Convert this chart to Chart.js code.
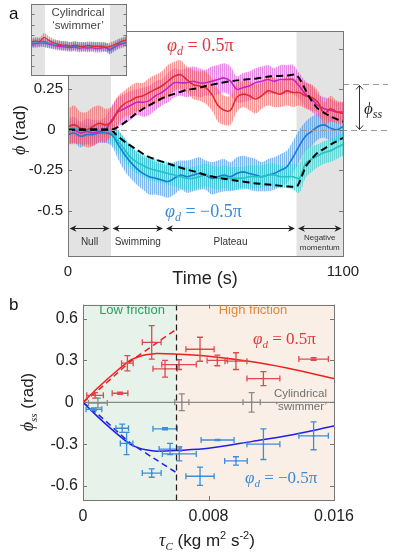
<!DOCTYPE html>
<html><head><meta charset="utf-8">
<script src="https://cdn.jsdelivr.net/npm/chart.js@4.4.1/dist/chart.umd.min.js"></script>
<style>
html,body{margin:0;padding:0;background:#fff;width:398px;height:553px;overflow:hidden}
#wrap{position:relative;width:398px;height:553px}
canvas{position:absolute;display:block}
#cA{left:0;top:0;z-index:1}
#cIn{left:31px;top:4px;z-index:2}
#cB{left:0;top:290px;z-index:1}
</style></head>
<body><div id="wrap">
<canvas id="cA" width="398" height="290"></canvas>
<canvas id="cIn" width="96" height="72"></canvas>
<canvas id="cB" width="398" height="263"></canvas>
</div>
<script>
// ---------------- DATA: panel a ----------------
const tA = [0,25,50,75,100,125,150,175,200,225,250,275,300,325,350,375,400,425,450,475,500,525,550,575,600,625,650,675,700,725,750,775,800,825,850,875,900,925,950,975,1000,1025,1050,1075,1100];
const redMean = [0.02,0.03,0.01,0.0,0.02,0.04,0.03,0.05,0.12,0.16,0.18,0.20,0.21,0.23,0.25,0.27,0.30,0.33,0.34,0.31,0.28,0.27,0.26,0.22,0.15,0.12,0.12,0.20,0.22,0.21,0.19,0.21,0.24,0.23,0.22,0.24,0.23,0.23,0.21,0.20,0.17,0.10,0.13,0.11,0.10];
const redHW   = [0.11,0.12,0.10,0.11,0.12,0.11,0.10,0.09,0.09,0.08,0.09,0.09,0.08,0.09,0.09,0.09,0.10,0.09,0.09,0.08,0.09,0.09,0.10,0.10,0.10,0.09,0.09,0.09,0.08,0.09,0.09,0.08,0.09,0.09,0.08,0.09,0.09,0.08,0.08,0.08,0.07,0.07,0.08,0.07,0.07];
const magMean = [-0.01,0.0,-0.02,-0.01,-0.02,-0.01,0.0,0.06,0.11,0.13,0.15,0.17,0.17,0.18,0.21,0.23,0.26,0.29,0.29,0.29,0.30,0.29,0.29,0.30,0.31,0.32,0.30,0.25,0.26,0.27,0.29,0.30,0.31,0.30,0.31,0.31,0.31,0.27,0.22,0.19,0.15,0.13,0.12,0.11,0.11];
const magHW   = [0.08,0.08,0.07,0.08,0.08,0.07,0.08,0.09,0.09,0.09,0.09,0.08,0.09,0.09,0.09,0.08,0.09,0.09,0.08,0.09,0.09,0.09,0.08,0.09,0.09,0.09,0.09,0.08,0.09,0.09,0.09,0.09,0.09,0.08,0.09,0.09,0.09,0.08,0.08,0.08,0.07,0.07,0.07,0.06,0.06];
const blueMean = [-0.03,-0.02,-0.04,-0.03,-0.03,-0.02,-0.02,-0.03,-0.09,-0.15,-0.20,-0.24,-0.27,-0.29,-0.30,-0.31,-0.32,-0.30,-0.28,-0.29,-0.28,-0.27,-0.28,-0.30,-0.29,-0.28,-0.29,-0.27,-0.26,-0.27,-0.28,-0.29,-0.28,-0.27,-0.25,-0.23,-0.17,-0.10,-0.04,-0.01,0.02,0.03,0.01,0.0,0.02];
const blueHW   = [0.06,0.06,0.07,0.06,0.06,0.06,0.06,0.07,0.09,0.10,0.10,0.10,0.10,0.11,0.10,0.10,0.10,0.10,0.09,0.10,0.10,0.10,0.09,0.10,0.10,0.10,0.09,0.10,0.10,0.10,0.10,0.09,0.10,0.10,0.10,0.10,0.10,0.10,0.09,0.09,0.08,0.08,0.08,0.08,0.07];
const cyanMean = [0.0,0.01,-0.01,0.0,-0.01,0.0,0.0,-0.02,-0.07,-0.12,-0.17,-0.20,-0.22,-0.24,-0.25,-0.26,-0.27,-0.28,-0.29,-0.30,-0.30,-0.29,-0.28,-0.29,-0.30,-0.29,-0.30,-0.30,-0.30,-0.29,-0.29,-0.29,-0.28,-0.28,-0.29,-0.29,-0.29,-0.30,-0.21,-0.18,-0.16,-0.14,-0.13,-0.11,-0.09];
const cyanHW   = [0.05,0.05,0.05,0.05,0.05,0.05,0.05,0.06,0.07,0.07,0.07,0.07,0.07,0.07,0.07,0.07,0.07,0.07,0.07,0.07,0.07,0.07,0.07,0.07,0.07,0.07,0.07,0.07,0.07,0.07,0.07,0.07,0.07,0.07,0.07,0.07,0.08,0.09,0.09,0.08,0.07,0.07,0.07,0.07,0.07];
const modelPosT = [0,172,192,232,272,312,352,392,432,472,512,552,612,676,744,812,876,912,932,952,972,996,1024,1052,1100];
const modelPosV = [0,0,0.01,0.05,0.10,0.14,0.175,0.205,0.225,0.245,0.255,0.27,0.29,0.305,0.315,0.33,0.335,0.34,0.30,0.24,0.185,0.135,0.105,0.08,0.05];
const modelNegT = [0,172,192,232,272,312,352,392,432,472,512,552,612,676,744,812,876,916,932,952,972,996,1032,1064,1100];
const modelNegV = [0,0,-0.03,-0.08,-0.12,-0.16,-0.185,-0.205,-0.225,-0.245,-0.26,-0.28,-0.30,-0.315,-0.33,-0.34,-0.35,-0.35,-0.30,-0.225,-0.185,-0.145,-0.11,-0.08,-0.05];
const yTicksA = [-0.5,-0.25,0,0.25,0.5];
const yTickLabelsA = ['-0.5','-0.25','0\u2002','0.25','0.5'];
const xTicksA = [0,1100];
const xTickLabelsA = ['0','1100'];
const phaseBounds = [0,172,386,914,1100];
const phaseNames = [['Null'],['Swimming'],['Plateau'],['Negative','momentum']];
const phiSS = 0.28;
// inset
const tIn = [0,50,100,150,200,250,300,350,400,450,500,550,600,650,700,750,800,850,900,950,1000,1050,1100];
const inRed  = [0.06,0.08,0.07,0.15,0.10,0.05,0.02,0.0,0.0,-0.02,0.0,-0.02,-0.03,-0.01,-0.02,-0.03,-0.02,-0.04,-0.03,0.0,0.04,0.08,0.10];
const inBlue = [0.04,0.05,0.06,0.07,0.04,0.02,0.0,-0.01,-0.02,-0.03,-0.02,-0.03,-0.02,-0.04,-0.03,-0.02,-0.04,-0.03,-0.10,-0.05,0.02,0.06,0.10];
const inCyan = [0.03,0.05,0.05,0.05,0.03,0.01,0.02,0.0,-0.01,-0.02,-0.01,-0.02,-0.03,-0.02,-0.01,-0.03,-0.02,-0.02,-0.06,-0.02,0.04,0.06,0.08];
const inMag  = [0.02,0.03,0.04,0.04,0.02,0.0,-0.02,-0.03,-0.04,-0.05,-0.04,-0.06,-0.05,-0.06,-0.05,-0.07,-0.06,-0.05,-0.08,-0.04,0.0,0.03,0.06];
const inHW = 0.08;
const inGray = [160,905];
const inTicks = [-0.4,-0.2,0,0.2,0.4,0.6];

// ---------------- DATA: panel b ----------------
const redTau = [0.00077,0.00236,0.00283,0.00438,0.00523,0.00612,0.00746,0.00856,0.00975,0.0115,0.0147];
const redPhi = [0.05,0.065,0.28,0.43,0.24,0.27,0.38,0.30,0.295,0.17,0.31];
const redTauErr = [0.00053,0.0005,0.00037,0.0006,0.00077,0.0011,0.0009,0.00065,0.0007,0.00105,0.00094];
const redPhiErr = [0.02,0.008,0.055,0.12,0.06,0.035,0.086,0.038,0.06,0.05,0.01];
const blueTau = [0.0007,0.0025,0.00278,0.00438,0.00523,0.00555,0.00614,0.00746,0.00858,0.00975,0.0115,0.0147];
const bluePhi = [-0.05,-0.186,-0.295,-0.507,-0.19,-0.335,-0.37,-0.53,-0.27,-0.42,-0.30,-0.24];
const blueTauErr = [0.0005,0.0004,0.0004,0.0006,0.00077,0.0007,0.00108,0.0009,0.00105,0.00072,0.00105,0.00094];
const bluePhiErr = [0.01,0.03,0.08,0.03,0.008,0.04,0.05,0.065,0.005,0.03,0.11,0.10];
const grayTau = [0.00095,0.0063,0.01075];
const grayPhi = [-0.005,0,0];
const grayTauErr = [0.0006,0.00045,0.00055];
const grayPhiErr = [0.035,0.06,0.07];
const modelTau = [0,0.001,0.002,0.003,0.0035,0.004,0.0047,0.006,0.008,0.0108,0.013,0.016];
const modelRedSolid  = [0,0.11,0.21,0.30,0.325,0.34,0.35,0.345,0.33,0.29,0.245,0.17];
const modelBlueSolid = [0,-0.11,-0.21,-0.30,-0.325,-0.34,-0.35,-0.345,-0.33,-0.28,-0.24,-0.17];
const lowTau = [0,0.001,0.002,0.003,0.0045,0.0059];
const modelRedDash  = [0,0.09,0.19,0.29,0.41,0.52];
const modelBlueDash = [0,-0.09,-0.19,-0.29,-0.40,-0.50];
const cylTau = [0,0.016];
const cylPhi = [0,0];
const frictionBoundary = 0.0059;
const yTicksB = [-0.6,-0.3,0,0.3,0.6];
const yTickLabelsB = ['-0.6','-0.3','0 ','0.3','0.6'];
const xTicksB = [0,0.008,0.016];
const xTickLabelsB = ['0','0.008','0.016'];

// ---------------- helpers ----------------
const SANS = '"Liberation Sans", Arial, sans-serif';
const SERIF = '"Liberation Serif", "DejaVu Serif", serif';
function pts(xs, ys){ return xs.map((x,i)=>({x:x,y:ys[i]})); }
function stripes(rgb, aDark, aLight){
  const c = document.createElement('canvas'); c.width = 2; c.height = 4;
  const g = c.getContext('2d');
  g.fillStyle = 'rgba(' + rgb + ',' + aLight + ')'; g.fillRect(0,0,2,4);
  g.fillStyle = 'rgba(' + rgb + ',' + aDark + ')'; g.fillRect(0,0,1,4);
  return g.createPattern(c, 'repeat');
}
function segText(ctx, x, y, parts, align){
  let w = 0;
  for (const p of parts){ ctx.font = p[1]; w += ctx.measureText(p[0]).width; }
  let cx = align === 'center' ? x - w/2 : (align === 'right' ? x - w : x);
  ctx.textAlign = 'left';
  for (const p of parts){ ctx.font = p[1]; ctx.fillText(p[0], cx, y + (p[2]||0)); cx += ctx.measureText(p[0]).width; }
}
function arrowHead(ctx, x, y, dir, len, hw){
  ctx.beginPath(); ctx.moveTo(x, y); ctx.lineTo(x - dir*len, y - hw); ctx.lineTo(x - dir*len*0.7, y); ctx.lineTo(x - dir*len, y + hw); ctx.closePath(); ctx.fill();
}
function insideTicks(ctx, area, ys, xs, scX, scY, len){
  ctx.beginPath();
  for (const v of ys){ const p = Math.round(scY.getPixelForValue(v)) + 0.5; ctx.moveTo(area.left, p); ctx.lineTo(area.left+len, p); ctx.moveTo(area.right, p); ctx.lineTo(area.right-len, p); }
  for (const v of xs){ const p = Math.round(scX.getPixelForValue(v)) + 0.5; ctx.moveTo(p, area.bottom); ctx.lineTo(p, area.bottom-len); ctx.moveTo(p, area.top); ctx.lineTo(p, area.top+len); }
  ctx.stroke();
}
function bandSets(t, mean, hw, rgb){
  const up = mean.map((m,i)=>m+hw[i]);
  const lo = mean.map((m,i)=>m-hw[i]);
  return [
    {data: pts(t, up), borderWidth: 0, pointRadius: 0, fill: '+1', backgroundColor: stripes(rgb, 0.55, 0.24), tension: 0.35, order: 5},
    {data: pts(t, lo), borderWidth: 0, pointRadius: 0, fill: false, tension: 0.35, order: 5},
  ];
}
function lineSet(t, v, color, lw, dash, order){
  return {data: pts(t, v), borderColor: color, borderWidth: lw, borderDash: dash || [], pointRadius: 0, fill: false, tension: 0.35, order: order};
}

// ---------------- panel a ----------------
const RED = '#de2c2f', MAG = '#c424c8', BLUE = '#1f78d2', CYAN = '#22c3c3';
const dsA = [
  lineSet(modelPosT, modelPosV, '#000', 2, [7,4], 0),
  lineSet(modelNegT, modelNegV, '#000', 2, [7,4], 0),
  lineSet(tA, redMean, RED, 1.6, null, 1),
  lineSet(tA, magMean, MAG, 1.6, null, 1),
  lineSet(tA, cyanMean, CYAN, 1.6, null, 1),
  lineSet(tA, blueMean, BLUE, 1.6, null, 1),
  ...bandSets(tA, redMean, redHW, '238,95,95'),
  ...bandSets(tA, magMean, magHW, '214,75,214'),
  ...bandSets(tA, cyanMean, cyanHW, '45,208,208'),
  ...bandSets(tA, blueMean, blueHW, '60,148,225'),
];
dsA[0].tension = 0.2; dsA[1].tension = 0.2;

const panelA = {
  id: 'panelA',
  beforeDatasetsDraw(chart){
    const {ctx, chartArea: a, scales: {x, y}} = chart;
    ctx.save();
    ctx.fillStyle = '#e3e3e3';
    const xn0 = x.getPixelForValue(phaseBounds[0]), xn1 = x.getPixelForValue(phaseBounds[1]);
    const xm0 = x.getPixelForValue(phaseBounds[3]), xm1 = x.getPixelForValue(phaseBounds[4]);
    ctx.fillRect(xn0, a.top, xn1 - xn0, a.bottom - a.top);
    ctx.fillRect(xm0, a.top, xm1 - xm0, a.bottom - a.top);
    ctx.restore();
  },
  afterDraw(chart){
    const {ctx, chartArea: a, scales: {x, y}} = chart;
    ctx.save();
    ctx.strokeStyle = '#9a9a9a'; ctx.lineWidth = 1.1; ctx.setLineDash([6,4]);
    const y0 = Math.round(y.getPixelForValue(0)) + 0.5, ys = Math.round(y.getPixelForValue(phiSS)) + 0.5;
    ctx.beginPath(); ctx.moveTo(x.getPixelForValue(phaseBounds[1]), y0); ctx.lineTo(388, y0); ctx.stroke();
    ctx.beginPath(); ctx.moveTo(a.right, ys); ctx.lineTo(388, ys); ctx.stroke();
    ctx.setLineDash([]);
    ctx.strokeStyle = '#777'; ctx.lineWidth = 1;
    ctx.strokeRect(Math.round(a.left)+0.5, Math.round(a.top)+0.5, Math.round(a.right-a.left), Math.round(a.bottom-a.top));
    insideTicks(ctx, a, yTicksA, [], x, y, 4);
    const ya = Math.round(y.getPixelForValue(-0.61)) + 0.5;
    ctx.strokeStyle = '#222'; ctx.fillStyle = '#222'; ctx.lineWidth = 1;
    for (let i = 0; i < phaseBounds.length - 1; i++){
      const p0 = x.getPixelForValue(phaseBounds[i]) + 1.5, p1 = x.getPixelForValue(phaseBounds[i+1]) - 1.5;
      ctx.beginPath(); ctx.moveTo(p0 + 3, ya); ctx.lineTo(p1 - 3, ya); ctx.stroke();
      arrowHead(ctx, p0, ya, -1, 7, 3.2); arrowHead(ctx, p1, ya, 1, 7, 3.2);
      const cx = (p0 + p1) / 2;
      ctx.fillStyle = '#333'; ctx.textAlign = 'center'; ctx.textBaseline = 'middle';
      const names = phaseNames[i];
      if (names.length === 1){ ctx.font = '10px ' + SANS; ctx.fillText(names[0], cx, 242); }
      else { ctx.font = '8px ' + SANS; ctx.fillText(names[0], cx, 238); ctx.fillText(names[1], cx, 247.5); }
      ctx.fillStyle = '#222';
    }
    ctx.strokeStyle = '#333'; ctx.lineWidth = 1;
    const xa = 359.5;
    ctx.beginPath(); ctx.moveTo(xa, ys + 1); ctx.lineTo(xa, y0 - 1); ctx.stroke();
    ctx.beginPath(); ctx.moveTo(xa - 3.5, ys + 5); ctx.lineTo(xa, ys + 1); ctx.lineTo(xa + 3.5, ys + 5); ctx.stroke();
    ctx.beginPath(); ctx.moveTo(xa - 3.5, y0 - 5); ctx.lineTo(xa, y0 - 1); ctx.lineTo(xa + 3.5, y0 - 5); ctx.stroke();
    ctx.fillStyle = '#222'; ctx.textBaseline = 'alphabetic';
    segText(ctx, 364, 114, [['\u03D5', 'italic 17px ' + SERIF], ['ss', 'italic 12px ' + SERIF, 4]], 'left');
    ctx.fillStyle = '#e0373b';
    segText(ctx, 167, 51, [['\u03C6', 'italic 18px ' + SERIF], ['d', 'italic 12px ' + SERIF, 4], [' = 0.5\u03C0', '18px ' + SERIF]], 'left');
    ctx.fillStyle = '#3a8ad8';
    segText(ctx, 165, 217, [['\u03C6', 'italic 18px ' + SERIF], ['d', 'italic 12px ' + SERIF, 4], [' = \u22120.5\u03C0', '18px ' + SERIF]], 'left');
    ctx.fillStyle = '#222'; ctx.textBaseline = 'middle';
    ctx.font = '18px ' + SANS; ctx.textAlign = 'center'; ctx.fillText('Time (s)', 205, 279);
    ctx.save(); ctx.translate(20, 130); ctx.rotate(-Math.PI/2);
    segText(ctx, 0, 0, [['\u03D5', 'italic 18px ' + SERIF], [' (rad)', '17px ' + SANS]], 'center');
    ctx.restore();
    ctx.font = '17px ' + SANS; ctx.textAlign = 'left'; ctx.textBaseline = 'alphabetic'; ctx.fillStyle = '#111';
    ctx.fillText('a', 9, 19);
    ctx.restore();
  }
};

new Chart(document.getElementById('cA'), {
  type: 'line',
  data: {datasets: dsA},
  options: {
    responsive: false, animation: false, devicePixelRatio: 1,
    layout: {padding: {left: 0, right: 55, top: 31, bottom: 0}},
    plugins: {legend: {display: false}, tooltip: {enabled: false}},
    scales: {
      x: {type: 'linear', min: 0, max: 1100,
          afterFit: s => { s.height = 34; },
          afterBuildTicks: s => { s.ticks = xTicksA.map(v => ({value: v})); },
          ticks: {font: {family: SANS, size: 15}, color: '#222', padding: 7, maxRotation: 0, autoSkip: false,
                  callback: (v, i) => xTickLabelsA[i]},
          grid: {display: false, drawTicks: false}, border: {display: false}},
      y: {type: 'linear', min: -0.78, max: 0.61,
          afterFit: s => { s.width = 68; },
          afterBuildTicks: s => { s.ticks = yTicksA.map(v => ({value: v})); },
          ticks: {font: {family: SANS, size: 15}, color: '#222', padding: 5, autoSkip: false,
                  callback: (v, i) => yTickLabelsA[i]},
          grid: {display: false, drawTicks: false}, border: {display: false}}
    }
  },
  plugins: [panelA]
});

// ---------------- inset ----------------
const dsIn = [
  lineSet(tIn, inRed, RED, 1.2, null, 1),
  lineSet(tIn, inMag, MAG, 1.2, null, 1),
  lineSet(tIn, inCyan, CYAN, 1.2, null, 1),
  lineSet(tIn, inBlue, BLUE, 1.2, null, 1),
  ...bandSets(tIn, inRed, inRed.map(()=>inHW), '238,95,95'),
  ...bandSets(tIn, inMag, inMag.map(()=>inHW), '214,75,214'),
  ...bandSets(tIn, inCyan, inCyan.map(()=>inHW), '45,208,208'),
  ...bandSets(tIn, inBlue, inBlue.map(()=>inHW), '60,148,225'),
];
const insetPl = {
  id: 'insetPl',
  beforeDraw(chart){ const c = chart.ctx; c.save(); c.fillStyle = '#fff'; c.fillRect(0,0,chart.width,chart.height); c.restore(); },
  beforeDatasetsDraw(chart){
    const {ctx, chartArea: a, scales: {x}} = chart;
    ctx.save(); ctx.fillStyle = '#e3e3e3';
    ctx.fillRect(a.left, a.top, x.getPixelForValue(inGray[0]) - a.left, a.bottom - a.top);
    ctx.fillRect(x.getPixelForValue(inGray[1]), a.top, a.right - x.getPixelForValue(inGray[1]), a.bottom - a.top);
    ctx.restore();
  },
  afterDraw(chart){
    const {ctx, chartArea: a, scales: {x, y}} = chart;
    ctx.save();
    ctx.strokeStyle = '#777'; ctx.lineWidth = 1;
    ctx.strokeRect(0.5, 0.5, chart.width - 1, chart.height - 1);
    insideTicks(ctx, {left: 0.5, right: chart.width - 0.5, top: 0.5, bottom: chart.height - 0.5}, inTicks, [], x, y, 3);
    ctx.fillStyle = '#444'; ctx.font = '11.5px ' + SANS; ctx.textAlign = 'center'; ctx.textBaseline = 'middle';
    ctx.fillText('Cylindrical', 47, 9);
    ctx.fillText('\u2018swimmer\u2019', 47, 22);
    ctx.restore();
  }
};
new Chart(document.getElementById('cIn'), {
  type: 'line',
  data: {datasets: dsIn},
  options: {
    responsive: false, animation: false, devicePixelRatio: 1,
    layout: {padding: 0},
    plugins: {legend: {display: false}, tooltip: {enabled: false}},
    scales: {
      x: {type: 'linear', min: 0, max: 1100, display: false},
      y: {type: 'linear', min: -0.6, max: 0.8, display: false}
    }
  },
  plugins: [insetPl]
});

// ---------------- panel b ----------------
const EB_RED = '#df4a50', EB_BLUE = '#3b8fd6', EB_GRAY = '#8a8a8a';
const dsB = [
  {type: 'line', data: pts(cylTau, cylPhi), borderColor: '#8a8a8a', borderWidth: 1.3, pointRadius: 0, order: 3},
  {type: 'line', data: pts(modelTau, modelRedSolid), borderColor: '#f01e1e', borderWidth: 1.5, pointRadius: 0, tension: 0.3, order: 1},
  {type: 'line', data: pts(modelTau, modelBlueSolid), borderColor: '#1f1fe6', borderWidth: 1.5, pointRadius: 0, tension: 0.3, order: 1},
  {type: 'line', data: pts(lowTau, modelRedDash), borderColor: '#f01e1e', borderWidth: 1.5, borderDash: [6,4], pointRadius: 0, tension: 0.2, order: 1},
  {type: 'line', data: pts(lowTau, modelBlueDash), borderColor: '#1f1fe6', borderWidth: 1.5, borderDash: [6,4], pointRadius: 0, tension: 0.2, order: 1},
  {type: 'scatter', data: pts(redTau, redPhi), xErr: redTauErr, yErr: redPhiErr, ebColor: EB_RED, pointRadius: 1.3, pointStyle: 'rect', backgroundColor: EB_RED, borderWidth: 0, order: 0},
  {type: 'scatter', data: pts(blueTau, bluePhi), xErr: blueTauErr, yErr: bluePhiErr, ebColor: EB_BLUE, pointRadius: 1.3, pointStyle: 'rect', backgroundColor: EB_BLUE, borderWidth: 0, order: 0},
  {type: 'scatter', data: pts(grayTau, grayPhi), xErr: grayTauErr, yErr: grayPhiErr, ebColor: EB_GRAY, pointRadius: 1.3, pointStyle: 'rect', backgroundColor: EB_GRAY, borderWidth: 0, order: 0},
];
const panelB = {
  id: 'panelB',
  beforeDatasetsDraw(chart){
    const {ctx, chartArea: a, scales: {x}} = chart;
    const xb = x.getPixelForValue(frictionBoundary);
    ctx.save();
    ctx.fillStyle = '#e6f2ea'; ctx.fillRect(a.left, a.top, xb - a.left, a.bottom - a.top);
    ctx.fillStyle = '#f9efe6'; ctx.fillRect(xb, a.top, a.right - xb, a.bottom - a.top);
    ctx.restore();
  },
  afterDatasetsDraw(chart){
    const {ctx, chartArea: a, scales: {x, y}} = chart;
    ctx.save();
    ctx.beginPath(); ctx.rect(a.left, a.top, a.right - a.left, a.bottom - a.top); ctx.clip();
    chart.data.datasets.forEach(ds => {
      if (!ds.xErr) return;
      ctx.strokeStyle = ds.ebColor; ctx.lineWidth = 1.3;
      ds.data.forEach((p, i) => {
        const cx = x.getPixelForValue(p.x), cy = y.getPixelForValue(p.y);
        const xl = x.getPixelForValue(p.x - ds.xErr[i]), xr = x.getPixelForValue(p.x + ds.xErr[i]);
        const yt = y.getPixelForValue(p.y + ds.yErr[i]), yb = y.getPixelForValue(p.y - ds.yErr[i]);
        ctx.beginPath();
        ctx.moveTo(xl, cy); ctx.lineTo(xr, cy);
        ctx.moveTo(xl, cy - 3); ctx.lineTo(xl, cy + 3);
        ctx.moveTo(xr, cy - 3); ctx.lineTo(xr, cy + 3);
        ctx.moveTo(cx, yt); ctx.lineTo(cx, yb);
        ctx.moveTo(cx - 3, yt); ctx.lineTo(cx + 3, yt);
        ctx.moveTo(cx - 3, yb); ctx.lineTo(cx + 3, yb);
        ctx.stroke();
      });
    });
    const xb = Math.round(x.getPixelForValue(frictionBoundary)) + 0.5;
    ctx.strokeStyle = '#222'; ctx.lineWidth = 1.3; ctx.setLineDash([6,4]);
    ctx.beginPath(); ctx.moveTo(xb, a.top); ctx.lineTo(xb, a.bottom); ctx.stroke();
    ctx.restore();
  },
  afterDraw(chart){
    const {ctx, chartArea: a, scales: {x, y}} = chart;
    ctx.save();
    ctx.strokeStyle = '#777'; ctx.lineWidth = 1;
    ctx.strokeRect(Math.round(a.left)+0.5, Math.round(a.top)+0.5, Math.round(a.right-a.left), Math.round(a.bottom-a.top));
    insideTicks(ctx, a, yTicksB, xTicksB, x, y, 4);
    ctx.textBaseline = 'middle';
    ctx.font = '13px ' + SANS; ctx.textAlign = 'center';
    ctx.fillStyle = '#2f9c60'; ctx.fillText('Low friction', 132, 20);
    ctx.fillStyle = '#e0883a'; ctx.fillText('High friction', 253, 20);
    ctx.fillStyle = '#707070'; ctx.font = '11.5px ' + SANS; ctx.textAlign = 'right';
    ctx.fillText('Cylindrical', 327, 104);
    ctx.fillText('\u2018swimmer\u2019', 327, 117);
    ctx.textBaseline = 'alphabetic';
    ctx.fillStyle = '#e0373b';
    segText(ctx, 253, 54, [['\u03C6', 'italic 17px ' + SERIF], ['d', 'italic 11px ' + SERIF, 4], [' = 0.5\u03C0', '17px ' + SERIF]], 'left');
    ctx.fillStyle = '#3a8ad8';
    segText(ctx, 245, 193, [['\u03C6', 'italic 17px ' + SERIF], ['d', 'italic 11px ' + SERIF, 4], [' = \u22120.5\u03C0', '17px ' + SERIF]], 'left');
    ctx.fillStyle = '#222';
    segText(ctx, 207, 256, [['\u03C4', 'italic 18px ' + SERIF], ['C', 'italic 11px ' + SERIF, 4], [' (kg m', '17px ' + SANS], ['2', '11px ' + SANS, -7], [' s', '17px ' + SANS], ['-2', '11px ' + SANS, -7], [')', '17px ' + SANS]], 'center');
    ctx.save(); ctx.translate(27, 112); ctx.rotate(-Math.PI/2);
    segText(ctx, 0, 6, [['\u03D5', 'italic 18px ' + SERIF], ['ss', 'italic 11px ' + SERIF, 4], [' (rad)', '17px ' + SANS]], 'center');
    ctx.restore();
    ctx.font = '17px ' + SANS; ctx.textAlign = 'left'; ctx.fillStyle = '#111';
    ctx.fillText('b', 9, 20);
    ctx.restore();
  }
};
new Chart(document.getElementById('cB'), {
  type: 'scatter',
  data: {datasets: dsB},
  options: {
    responsive: false, animation: false, devicePixelRatio: 1,
    layout: {padding: {left: 0, right: 64, top: 12, bottom: 0}},
    plugins: {legend: {display: false}, tooltip: {enabled: false}},
    scales: {
      x: {type: 'linear', min: 0, max: 0.016,
          afterFit: s => { s.height = 53; },
          afterBuildTicks: s => { s.ticks = xTicksB.map(v => ({value: v})); },
          ticks: {font: {family: SANS, size: 16}, color: '#222', padding: 7, maxRotation: 0, autoSkip: false,
                  callback: (v, i) => xTickLabelsB[i]},
          grid: {display: false, drawTicks: false}, border: {display: false}},
      y: {type: 'linear', min: -0.7, max: 0.7,
          afterFit: s => { s.width = 83; },
          afterBuildTicks: s => { s.ticks = yTicksB.map(v => ({value: v})); },
          ticks: {font: {family: SANS, size: 16}, color: '#222', padding: 5, autoSkip: false,
                  callback: (v, i) => yTickLabelsB[i]},
          grid: {display: false, drawTicks: false}, border: {display: false}}
    }
  },
  plugins: [panelB]
});
</script>
</body></html>
